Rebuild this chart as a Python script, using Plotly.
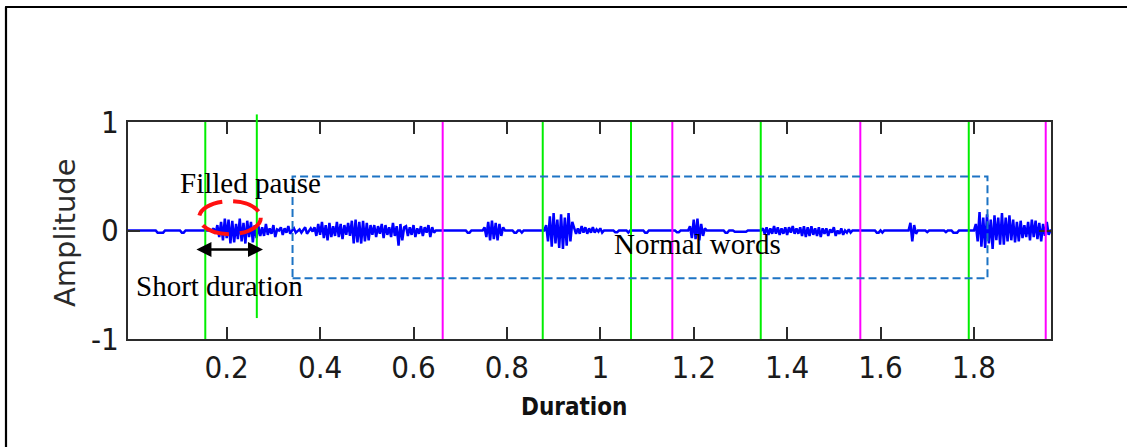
import plotly.graph_objects as go

# ---------------- figure geometry ----------------
W, H = 1127, 447
ML, MR, MT, MB = 128, 76, 122, 108
PLOT_W = W - ML - MR
PLOT_H = H - MT - MB

X_RANGE = [-0.0113, 1.965]
Y_RANGE = [-1, 1]

# ---------------- axes ----------------
x_tickvals = [0.2, 0.4, 0.6, 0.8, 1.0, 1.2, 1.4, 1.6, 1.8]
x_ticktext = ["0.2", "0.4", "0.6", "0.8", "1", "1.2", "1.4", "1.6", "1.8"]
y_tickvals = [-1, 0, 1]
y_ticktext = ["-1", "0", "1"]

# ---------------- word boundaries (s) ----------------
green_marks = [0.1542, 0.2645, 0.8767, 1.0657, 1.3435, 1.7889]
magenta_marks = [0.6625, 1.1542, 1.5567, 1.9537]
# the second green boundary is drawn taller than the axes
tall_green_mark = 0.2645
tall_green_span = (-0.807, 1.07)

# ---------------- speech waveform ----------------
DT = 0.004          # sample spacing of the plotted waveform (s)
T0, T_END = -0.012, 1.968
segment_starts = [
    0.051, 0.105,
    0.171, 0.276, 0.344, 0.388, 0.468, 0.512, 0.584,
    0.714, 0.753, 0.817, 0.833,
    0.882, 0.946,
    1.031, 1.059, 1.096, 1.164,
    1.192, 1.267, 1.288,
    1.349, 1.429, 1.485,
    1.592, 1.605, 1.663, 1.702, 1.738, 1.755,
    1.802, 1.858, 1.914,
]
segment_samples = [
    [-0.02, -0.02, -0.02, -0.02],
    [-0.02, -0.02],
    [0.02, -0.03, 0.05, -0.06, 0.08, -0.09, 0.11, -0.07, 0.10, -0.12, 0.09, -0.11, 0.06,
     -0.08, 0.11, -0.10, 0.07, -0.12, 0.09, -0.06, 0.08, -0.11, 0.05, -0.07, 0.04, -0.05],
    [0.03, -0.05, 0.06, -0.04, 0.02, -0.03, 0.05, -0.06, 0.01, 0.0, 0.03, -0.04, 0.02,
     -0.02, 0.04, -0.03, 0.0],
    [0.02, -0.02, 0.0, 0.01, -0.02, 0.0, 0.03, -0.03, 0.0, 0.02, -0.01],
    [0.03, -0.05, 0.06, -0.04, 0.08, -0.07, 0.05, -0.09, 0.07, -0.06, 0.04, -0.05, 0.08,
     -0.06, 0.06, -0.08, 0.05, -0.04, 0.07, -0.05],
    [0.09, -0.12, 0.10, -0.11, 0.08, -0.12, 0.09, -0.10, 0.07, -0.09, 0.05],
    [-0.04, 0.05, -0.06, 0.04, -0.03, 0.06, -0.07, 0.05, -0.04, 0.03, -0.06, 0.07, -0.05,
     0.04, -0.14, 0.06, -0.09, 0.03],
    [0.04, -0.05, 0.03, -0.04, 0.05, -0.06, 0.02, -0.03, 0.04, -0.05, 0.03, -0.02, 0.05,
     -0.06, 0.03, -0.02],
    [-0.02, -0.02],
    [0.03, -0.06, 0.08, -0.09, 0.09, -0.08, 0.07, -0.09, 0.06, -0.05, 0.03],
    [-0.02, -0.02],
    [-0.02],
    [0.05, -0.10, 0.13, -0.15, 0.16, -0.12, 0.10, -0.16, 0.15, -0.17, 0.12, -0.14, 0.16,
     -0.10, 0.08, -0.05],
    [0.03, -0.03, 0.02, -0.03, 0.04, -0.02, 0.03, -0.03, 0.02, -0.02, 0.03, -0.02, 0.01,
     -0.01, 0.02, -0.02, 0.0],
    [-0.015, -0.015],
    [-0.02],
    [-0.02, -0.02],
    [-0.015, -0.015],
    [0.04, -0.07, 0.10, -0.08, 0.11, -0.09, 0.06, -0.05, 0.02],
    [-0.02, -0.02],
    [-0.012, -0.012, -0.012, -0.012, -0.012, -0.012, -0.012],
    [0.02, -0.03, 0.03, -0.04, 0.02, -0.03, 0.04, -0.03, 0.03, -0.04, 0.02, -0.03, 0.03,
     -0.04, 0.03, -0.02, 0.04, -0.03, 0.02, -0.03],
    [0.03, -0.05, 0.04, -0.06, 0.03, -0.05, 0.04, -0.04, 0.02, -0.05, 0.03, -0.06, 0.02,
     -0.03],
    [0.02, -0.05, 0.01, -0.02, 0.03, -0.05, 0.0, -0.03, 0.02, -0.04, 0.0, -0.02, 0.01,
     -0.02],
    [-0.02, -0.02],
    [-0.02],
    [0.07, -0.10, 0.05, -0.03],
    [-0.015],
    [-0.015],
    [-0.02, -0.02, -0.02],
    [0.06, -0.10, 0.17, -0.15, 0.12, -0.16, 0.15, -0.12, 0.10, -0.17, 0.14, -0.09, 0.12,
     -0.13],
    [0.16, -0.13, 0.12, -0.10, 0.14, -0.09, 0.10, -0.11, 0.08, -0.10, 0.09, -0.07, 0.05,
     -0.06],
    [0.08, -0.09, 0.10, -0.06, 0.09, -0.08, 0.07, -0.10, 0.06, -0.05, 0.08, -0.04],
]

n_samples = int(round((T_END - T0) / DT)) + 1
time = [T0 + k * DT for k in range(n_samples)]
amplitude = [0.0] * n_samples
for start, vals in zip(segment_starts, segment_samples):
    k0 = int(round((start - T0) / DT))
    for i, v in enumerate(vals):
        amplitude[k0 + i] = v

# ---------------- annotation regions ----------------
pause_ellipse = dict(x0=0.141, x1=0.273, y0=-0.034, y1=0.27)
normal_box = dict(x0=0.341, x1=1.829, y0=-0.44, y1=0.497)
short_arrow = dict(x_start=0.132, x_end=0.2777, y=-0.175)


def px_to_paper(px, py):
    return (px - ML) / PLOT_W, (H - MB - py) / PLOT_H


def data_y_to_paper(v):
    return (v - Y_RANGE[0]) / (Y_RANGE[1] - Y_RANGE[0])


fig = go.Figure()
fig.add_trace(go.Scatter(
    x=time, y=amplitude, mode="lines",
    line=dict(color="#0000FF", width=2.5),
    hoverinfo="skip", showlegend=False,
))

shapes = []
for xv in green_marks:
    if xv == tall_green_mark:
        y0, y1 = (data_y_to_paper(v) for v in tall_green_span)
    else:
        y0, y1 = 0, 1
    shapes.append(dict(type="line", xref="x", yref="paper", x0=xv, x1=xv, y0=y0, y1=y1,
                       line=dict(color="#00EE00", width=2)))
for xv in magenta_marks:
    shapes.append(dict(type="line", xref="x", yref="paper", x0=xv, x1=xv, y0=0, y1=1,
                       line=dict(color="#FF00FF", width=2)))

shapes.append(dict(type="rect", xref="x", yref="y", **normal_box,
                   line=dict(color="#1C73C4", width=2, dash="8px,4px")))
shapes.append(dict(type="circle", xref="x", yref="y", **pause_ellipse,
                   line=dict(color="#FF1010", width=4, dash="28px,11px")))

# outer frame of the figure (top and left edges)
bx0, by0 = px_to_paper(6, 7)
bx1, _ = px_to_paper(W + 2, 7)
_, by1 = px_to_paper(6, H + 2)
shapes.append(dict(type="line", xref="paper", yref="paper", x0=bx0 - 0.001, x1=bx1,
                   y0=by0, y1=by0, line=dict(color="black", width=2.2)))
shapes.append(dict(type="line", xref="paper", yref="paper", x0=bx0, x1=bx0,
                   y0=by0, y1=by1, line=dict(color="black", width=2.2)))

serif = dict(family="Liberation Serif, Times New Roman, serif", size=29, color="black")
narrow = "Liberation Sans Narrow, Arial Narrow, DejaVu Sans Condensed, Liberation Sans, sans-serif"

ax_x, ax_y = px_to_paper(65, 233)
dx_x, dx_y = px_to_paper(574, 406.5)

annotations = [
    dict(text="Filled pause", x=0.0957, y=0.438, xref="x", yref="y",
         xanchor="left", yanchor="middle", showarrow=False, font=serif),
    dict(text="Short duration", x=0.0015, y=-0.513, xref="x", yref="y",
         xanchor="left", yanchor="middle", showarrow=False, font=serif),
    dict(text="Normal words", x=1.0257, y=-0.126, xref="x", yref="y",
         xanchor="left", yanchor="middle", showarrow=False, font=serif),
    dict(text="", x=short_arrow["x_end"], y=short_arrow["y"],
         ax=short_arrow["x_start"], ay=short_arrow["y"], xref="x", yref="y",
         axref="x", ayref="y", showarrow=True, arrowside="end+start",
         arrowhead=2, startarrowhead=2, arrowsize=1.2, startarrowsize=1.2,
         arrowwidth=2.5, arrowcolor="black", standoff=0, startstandoff=0),
    dict(text="Amplitude", x=ax_x, y=ax_y, xref="paper", yref="paper",
         xanchor="center", yanchor="middle", textangle=-90, showarrow=False,
         font=dict(family="DejaVu Sans, Liberation Sans, sans-serif", size=29,
                   color="#2a2a2a")),
    dict(text="<b>Duration</b>", x=dx_x, y=dx_y, xref="paper", yref="paper",
         xanchor="center", yanchor="middle", showarrow=False,
         font=dict(family=narrow, size=24, color="#111111")),
]

axis_common = dict(
    showline=True, linecolor="#2b2b2b", linewidth=2, mirror="ticks",
    ticks="inside", ticklen=12, tickwidth=2, tickcolor="#2b2b2b",
    showgrid=False, zeroline=False,
    tickfont=dict(family=narrow, size=31, color="#1a1a1a"),
)

fig.update_layout(
    width=W, height=H,
    margin=dict(l=ML, r=MR, t=MT, b=MB, pad=0),
    paper_bgcolor="white", plot_bgcolor="white",
    xaxis=dict(range=X_RANGE, tickvals=x_tickvals, ticktext=x_ticktext,
               ticklabelstandoff=0, **axis_common),
    yaxis=dict(range=Y_RANGE, tickvals=y_tickvals, ticktext=y_ticktext,
               ticklabelstandoff=1, **axis_common),
    shapes=shapes,
    annotations=annotations,
    showlegend=False,
)

fig.write_html("out.html")
